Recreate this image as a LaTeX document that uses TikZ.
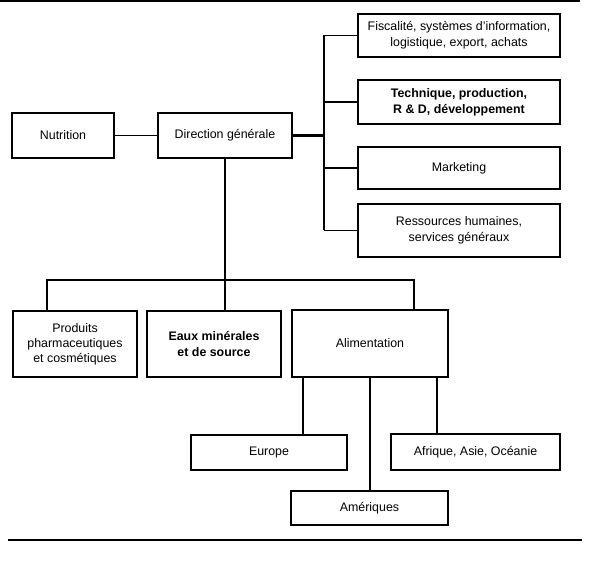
\documentclass[tikz,border=0pt]{standalone}
\usepackage{fontspec}
\setmainfont{Liberation Sans}
\begin{document}
\begin{tikzpicture}[x=1pt,y=-1pt,
  box/.style={draw,line width=1.1pt,align=center,inner sep=0pt,
    font=\fontsize{12.4}{16}\selectfont},
  conn/.style={line width=1.9pt},
  mainconn/.style={line width=3pt},
  rulel/.style={line width=1.4pt}]
\useasboundingbox (0,0) rectangle (597,561);
% rules
\draw[rulel] (0,1.2) -- (580,1.2);
\draw[rulel] (8,540) -- (582,540);
% boxes
\node[box,minimum width=102pt,minimum height=45pt] (nut) at (63,135.5) {Nutrition};
\node[box,minimum width=134pt,minimum height=45pt] (dir) at (225,135.5) {Direction générale};
\node[box,minimum width=202pt,minimum height=43pt] (fis) at (459,35.5) {Fiscalité, systèmes d’information,\\logistique, export, achats};
\node[box,minimum width=202pt,minimum height=44pt,font=\fontsize{12.4}{16}\selectfont\bfseries] (tec) at (459,102) {Technique, production,\\R \& D, développement};
\node[box,minimum width=202pt,minimum height=42pt] (mkt) at (459,168) {Marketing};
\node[box,minimum width=202pt,minimum height=53pt] (rh) at (459,230.5) {Ressources humaines,\\services généraux};
\node[box,minimum width=124pt,minimum height=66pt,font=\fontsize{12.4}{15}\selectfont] (prod) at (75,344) {Produits\\pharmaceutiques\\et cosmétiques};
\node[box,minimum width=134pt,minimum height=66pt,font=\fontsize{12.4}{16}\selectfont\bfseries] (eaux) at (214,344) {Eaux minérales\\et de source};
\node[box,minimum width=156pt,minimum height=67pt] (alim) at (370,343.5) {Alimentation};
\node[box,minimum width=156pt,minimum height=35pt] (eur) at (269,452.5) {Europe};
\node[box,minimum width=169pt,minimum height=36pt] (afr) at (475.5,452) {Afrique, Asie, Océanie};
\node[box,minimum width=157pt,minimum height=34pt] (ame) at (369.5,508) {Amériques};
% coordinates
\coordinate (tm) at (324,135.5);
\coordinate (tf) at (324,35.5);
\coordinate (tt) at (324,102);
\coordinate (tk) at (324,168);
\coordinate (tr) at (324,230.5);
\coordinate (bl) at (47,280);
\coordinate (br) at (414,280);
\coordinate (ae) at (303,0);
\coordinate (aa) at (437,0);
% connectors
\draw[conn] (nut) -- (dir);
\draw[mainconn] (dir.east) -- (tm);
\draw[conn] (tf) -- (tr);
\draw[conn] (tf) -- (fis.west);
\draw[conn] (tt) -- (tec.west);
\draw[conn] (tk) -- (mkt.west);
\draw[conn] (tr) -- (rh.west);
\draw[conn] (dir.south) -- (dir.south |- eaux.north);
\draw[conn] (prod.north -| bl) -- (bl) -- (br) -- (br |- alim.north);
\draw[conn] (alim.south -| ae) -- (eur.north -| ae);
\draw[conn] (alim.south) -- (alim.south |- ame.north);
\draw[conn] (alim.south -| aa) -- (afr.north -| aa);
\end{tikzpicture}
\end{document}
